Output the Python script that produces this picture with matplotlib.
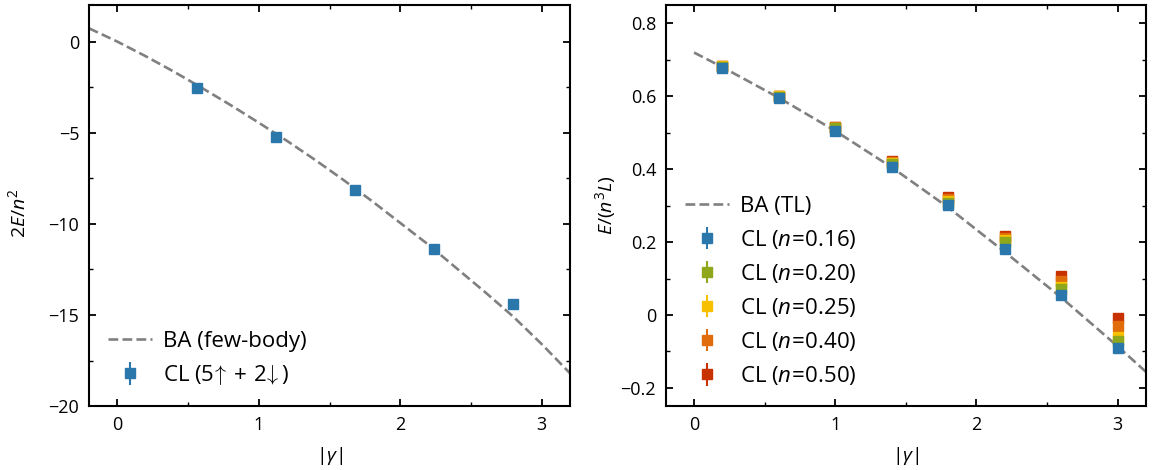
import matplotlib
matplotlib.use("Agg")
import matplotlib.pyplot as plt
from matplotlib.ticker import MultipleLocator, FuncFormatter

plt.rcParams['font.family'] = ['Open Sans', 'DejaVu Sans']
plt.rcParams['mathtext.fontset'] = 'custom'
plt.rcParams['mathtext.rm'] = 'Open Sans'
plt.rcParams['mathtext.it'] = 'Open Sans:italic'
plt.rcParams['mathtext.bf'] = 'Open Sans:bold'
plt.rcParams['axes.unicode_minus'] = True

# ---- Left panel data ----
ba_fb_x = [-0.2, 0.0, 0.2, 0.4, 0.6, 0.8, 1.0, 1.2, 1.4, 1.6, 1.8, 2.0, 2.2, 2.4, 2.6, 2.8, 3.0, 3.2]
ba_fb_y = [0.73, 0.0, -0.8, -1.65, -2.55, -3.48, -4.45, -5.45, -6.5, -7.6, -8.75, -9.95,
           -11.15, -12.45, -13.75, -15.1, -16.6, -18.2]
cl7_x = [0.56, 1.12, 1.68, 2.24, 2.80]
cl7_y = [-2.56, -5.24, -8.17, -11.39, -14.38]
cl7_err = [0.05, 0.06, 0.08, 0.10, 0.12]

# ---- Right panel data ----
ba_tl_x = [0.0, 0.2, 0.6, 1.0, 1.4, 1.8, 2.2, 2.6, 3.0, 3.2]
ba_tl_y = [0.72, 0.68, 0.596, 0.505, 0.405, 0.295, 0.173, 0.048, -0.086, -0.156]
gammas = [0.2, 0.6, 1.0, 1.4, 1.8, 2.2, 2.6, 3.0]
densities = ['0.16', '0.20', '0.25', '0.40', '0.50']
e_n016 = [0.678, 0.595, 0.504, 0.407, 0.302, 0.180, 0.055, -0.091]
e_n020 = [0.681, 0.599, 0.512, 0.413, 0.308, 0.199, 0.070, -0.071]
e_n025 = [0.682, 0.600, 0.514, 0.416, 0.312, 0.205, 0.077, -0.060]
e_n040 = [0.682, 0.601, 0.515, 0.419, 0.317, 0.210, 0.093, -0.029]
e_n050 = [0.683, 0.601, 0.516, 0.422, 0.323, 0.218, 0.108, -0.008]
err_tl = [0.002, 0.002, 0.003, 0.003, 0.004, 0.005, 0.006, 0.008]
series_tl = [e_n016, e_n020, e_n025, e_n040, e_n050]
colors = ['#2a78ab', '#8ea71b', '#f7c000', '#e06c0c', '#c83200']

fig = plt.figure(figsize=(11.52, 4.70), dpi=100)
ax1 = fig.add_axes([0.0773, 0.136, 0.4175, 0.853])
ax2 = fig.add_axes([0.578, 0.136, 0.4167, 0.853])

dash_col = '#808080'
TICK_FS = 13
LAB_FS = 14
LEG_FS = 16

ax1.plot(ba_fb_x, ba_fb_y, ls='--', color=dash_col, lw=1.9, label='BA (few-body)', zorder=2)
ax1.errorbar(cl7_x, cl7_y, yerr=cl7_err, fmt='s', ms=6.5, color=colors[0],
             elinewidth=1.5, capsize=0, label=r'CL $(5\!\uparrow+\,2\!\downarrow)$', zorder=3)
ax1.set_xlim(-0.2, 3.2)
ax1.set_ylim(-20, 2)
ax1.set_xlabel(r'$|\gamma|$', fontsize=LAB_FS, labelpad=8)
ax1.set_ylabel(r'$2E/n^2$', fontsize=LAB_FS)
ax1.yaxis.set_label_coords(-0.125, 0.48)
ax1.xaxis.set_major_locator(MultipleLocator(1))
ax1.xaxis.set_minor_locator(MultipleLocator(0.5))
ax1.yaxis.set_major_locator(MultipleLocator(5))
ax1.yaxis.set_minor_locator(MultipleLocator(2.5))

ax2.plot(ba_tl_x, ba_tl_y, ls='--', color=dash_col, lw=1.9, label='BA (TL)', zorder=2)
for i, (d, ys, c) in enumerate(zip(densities, series_tl, colors)):
    ax2.errorbar(gammas, ys, yerr=err_tl, fmt='s', ms=6.5, color=c,
                 elinewidth=1.5, capsize=0, label=r'CL $(n\!=\!%s)$' % d,
                 zorder=10 - i)
ax2.set_xlim(-0.2, 3.2)
ax2.set_ylim(-0.25, 0.85)
ax2.set_xlabel(r'$|\gamma|$', fontsize=LAB_FS, labelpad=8)
ax2.set_ylabel(r'$E/(n^3L)$', fontsize=LAB_FS)
ax2.yaxis.set_label_coords(-0.1, 0.5)
ax2.xaxis.set_major_locator(MultipleLocator(1))
ax2.xaxis.set_minor_locator(MultipleLocator(0.5))
ax2.yaxis.set_major_locator(MultipleLocator(0.2))
ax2.yaxis.set_minor_locator(MultipleLocator(0.1))


def fmt_r(v, pos):
    if abs(v) < 1e-9:
        return '0'
    return ('%.1f' % v).replace('-', '\u2212')


ax2.yaxis.set_major_formatter(FuncFormatter(fmt_r))

for ax in (ax1, ax2):
    for s in ax.spines.values():
        s.set_linewidth(1.5)
    ax.tick_params(which='both', direction='in', top=True, right=True, labelsize=TICK_FS)
    ax.tick_params(which='major', length=5, width=1.3, pad=7)
    ax.tick_params(which='minor', length=3, width=1.0)

leg_kw = dict(loc='lower left', frameon=False, fontsize=LEG_FS, handlelength=2.0,
              handletextpad=0.5, labelspacing=0.5, borderaxespad=0.45)
ax1.legend(**leg_kw)
ax2.legend(**leg_kw)

fig.savefig('out.png', dpi=100)
